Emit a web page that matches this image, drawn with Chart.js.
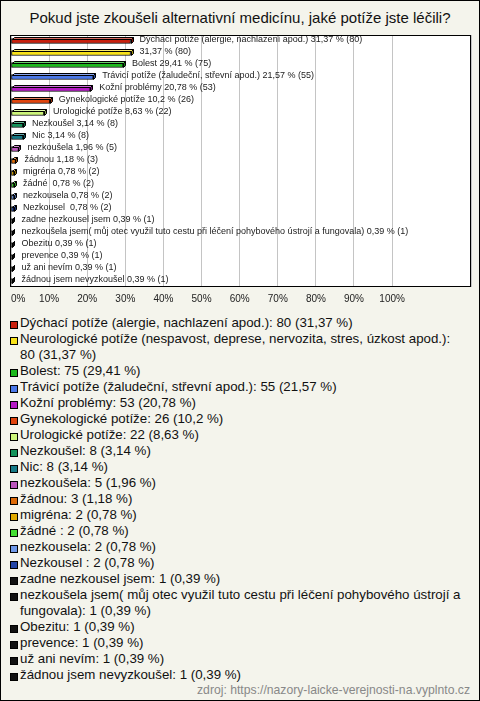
<!DOCTYPE html>
<html><head><meta charset="utf-8">
<script src="https://cdn.jsdelivr.net/npm/chart.js@4.4.1/dist/chart.umd.min.js"></script>
<style>
html,body{margin:0;padding:0;}
body{width:480px;height:701px;background:#f4f4ec;position:relative;overflow:hidden;font-family:"Liberation Sans",Arial,sans-serif;}
#frame{position:absolute;left:0;top:0;width:478px;height:699px;border:1px solid #000;pointer-events:none;}
#title{position:absolute;left:0;top:9px;width:480px;text-align:center;font-size:15px;color:#111;}
#chartBox{position:absolute;left:0;top:0;width:480px;height:310px;}
#legend{position:absolute;left:10px;top:315px;width:455px;font-size:13.3px;color:#111;line-height:16px;}
.item{display:flex;align-items:flex-start;}
.sw{box-sizing:border-box;width:8px;height:8px;border:1px solid #000;margin-top:6px;margin-right:2px;flex:none;}
#source{position:absolute;right:10px;top:683px;font-size:12.2px;color:#888;}
</style>
</head>
<body>
<div id="title">Pokud jste zkoušeli alternativní medicínu, jaké potíže jste léčili?</div>
<div id="chartBox"><canvas id="c" width="480" height="310"></canvas></div>
<div id="legend"></div>
<div id="source">zdroj: https://nazory-laicke-verejnosti-na.vyplnto.cz</div>
<div id="frame"></div>
<script>
const categories = [
  "Dýchací potíže (alergie, nachlazení apod.)",
  "Neurologické potíže (nespavost, deprese, nervozita, stres, úzkost apod.)",
  "Bolest",
  "Trávicí potíže (žaludeční, střevní apod.)",
  "Kožní problémy",
  "Gynekologické potíže",
  "Urologické potíže",
  "Nezkoušel",
  "Nic",
  "nezkoušela",
  "žádnou",
  "migréna",
  "žádné ",
  "nezkousela",
  "Nezkousel ",
  "zadne nezkousel jsem",
  "nezkoušela jsem( můj otec využil tuto cestu při léčení pohybového ústrojí a fungovala)",
  "Obezitu",
  "prevence",
  "už ani nevím",
  "žádnou jsem nevyzkoušel"
];
const counts = [80, 80, 75, 55, 53, 26, 22, 8, 8, 5, 3, 2, 2, 2, 2, 1, 1, 1, 1, 1, 1];
const percents = [31.37, 31.37, 29.41, 21.57, 20.78, 10.2, 8.63, 3.14, 3.14, 1.96, 1.18, 0.78, 0.78, 0.78, 0.78, 0.39, 0.39, 0.39, 0.39, 0.39, 0.39];
const colors = [
  "#c8200e", "#f8e21a", "#1cb81c", "#4a78e8", "#b419c4", "#e0440e", "#ccf57a",
  "#14935a", "#157a86", "#bb55bb", "#dd6a08", "#e0aa00", "#44dd33", "#6e98e8", "#2446a8",
  "#111111", "#111111", "#111111", "#111111", "#111111", "#111111"
];
const tickValues = [0, 10, 20, 30, 40, 50, 60, 70, 80, 90, 100];

const fmt = v => String(v).replace('.', ',');

function shade(hex, f) {
  const n = parseInt(hex.slice(1), 16);
  let r = (n >> 16) & 255, g = (n >> 8) & 255, b = n & 255;
  if (f > 0) { r += (255 - r) * f; g += (255 - g) * f; b += (255 - b) * f; }
  else { r *= 1 + f; g *= 1 + f; b *= 1 + f; }
  return `rgb(${Math.round(r)},${Math.round(g)},${Math.round(b)})`;
}

const plotBg = {
  id: 'plotBg',
  beforeDraw(chart) {
    const {ctx, chartArea: a} = chart;
    ctx.save();
    ctx.fillStyle = '#ffffff';
    ctx.fillRect(a.left - 1, a.top, a.right - a.left + 1, a.bottom - a.top);
    ctx.restore();
  },
  afterDraw(chart) {
    const {ctx, chartArea: a} = chart;
    ctx.save();
    ctx.strokeStyle = '#000';
    ctx.lineWidth = 1;
    ctx.strokeRect(a.left - 0.5, a.top + 0.5, a.right - a.left, a.bottom - a.top - 1);
    ctx.restore();
  }
};

const barDepth = {
  id: 'barDepth',
  afterDatasetsDraw(chart) {
    const {ctx} = chart;
    const meta = chart.getDatasetMeta(0);
    const d = 2;
    ctx.save();
    ctx.lineWidth = 1;
    ctx.strokeStyle = '#000';
    meta.data.forEach((bar, i) => {
      const p = bar.getProps(['x', 'y', 'base', 'height'], true);
      const x0 = Math.round(p.base) + 0.5, x1 = Math.round(p.x) + 0.5;
      const top = Math.round(p.y - p.height / 2) + 0.5, bot = Math.round(p.y + p.height / 2) - 0.5;
      ctx.beginPath();
      ctx.moveTo(x0, top); ctx.lineTo(x0 + d, top - d); ctx.lineTo(x1 + d, top - d); ctx.lineTo(x1, top); ctx.closePath();
      ctx.fillStyle = shade(colors[i], 0.35); ctx.fill(); ctx.stroke();
      ctx.beginPath();
      ctx.moveTo(x1, top); ctx.lineTo(x1 + d, top - d); ctx.lineTo(x1 + d, bot - d); ctx.lineTo(x1, bot); ctx.closePath();
      ctx.fillStyle = shade(colors[i], -0.35); ctx.fill(); ctx.stroke();
    });
    ctx.restore();
  }
};

const barLabels = {
  id: 'barLabels',
  afterDatasetsDraw(chart) {
    const {ctx, chartArea: a} = chart;
    const meta = chart.getDatasetMeta(0);
    ctx.save();
    ctx.font = '9px "Liberation Sans", Arial, sans-serif';
    ctx.fillStyle = '#222';
    ctx.textBaseline = 'middle';
    meta.data.forEach((bar, i) => {
      const value = fmt(percents[i]) + ' % (' + counts[i] + ')';
      let txt = categories[i] + ' ' + value;
      const x = bar.x + 9;
      if (x + ctx.measureText(txt).width > a.right - 2) txt = value;
      ctx.fillText(txt, x, bar.y - 1);
    });
    ctx.restore();
  }
};

new Chart(document.getElementById('c'), {
  type: 'bar',
  data: {
    labels: categories,
    datasets: [{
      data: percents,
      backgroundColor: colors,
      borderColor: '#000',
      borderWidth: 1,
      borderSkipped: false,
      barThickness: 5
    }]
  },
  options: {
    indexAxis: 'y',
    responsive: false,
    animation: false,
    layout: {padding: {left: 11, right: 9, top: 35, bottom: 0}},
    plugins: {legend: {display: false}, tooltip: {enabled: false}, title: {display: false}},
    scales: {
      x: {
        min: 0, max: 120.7,
        afterBuildTicks: s => {
          s.ticks = tickValues.map(v => ({value: v}));
          s.ticks.push({value: s.max});
        },
        afterFit: s => { s.height = 23; },
        grid: {color: '#c4c4c4', drawTicks: false},
        border: {display: false},
        ticks: {
          padding: 6, color: '#222', align: 'inner',
          font: {size: 10, family: '"Liberation Sans", Arial, sans-serif'},
          callback: v => (tickValues.includes(v) ? v + '%' : ''),
          maxRotation: 0, autoSkip: false
        }
      },
      y: {display: false}
    }
  },
  plugins: [plotBg, barDepth, barLabels]
});

const leg = document.getElementById('legend');
categories.forEach((c, i) => {
  const it = document.createElement('div');
  it.className = 'item';
  const sw = document.createElement('span');
  sw.className = 'sw';
  sw.style.background = colors[i];
  const t = document.createElement('span');
  t.textContent = c + ': ' + counts[i] + ' (' + fmt(percents[i]) + ' %)';
  it.appendChild(sw); it.appendChild(t);
  leg.appendChild(it);
});
</script>
</body></html>
